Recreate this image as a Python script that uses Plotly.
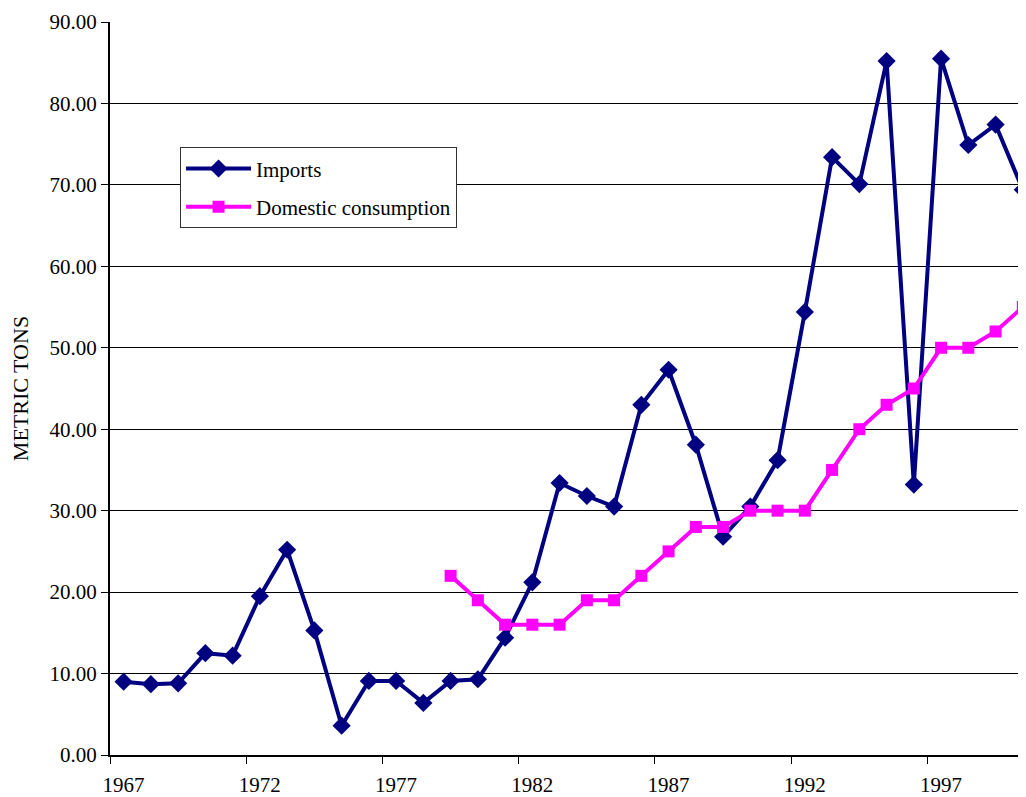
import plotly.graph_objects as go

years = [str(y) for y in range(1967, 2001)]
imports = [9.0, 8.7, 8.8, 12.5, 12.2, 19.5, 25.2, 15.3, 3.6, 9.1, 9.1, 6.4, 9.1, 9.3,
           14.4, 21.2, 33.4, 31.8, 30.5, 43.0, 47.3, 38.1, 26.8, 30.5, 36.2, 54.4,
           73.4, 70.1, 85.2, 33.2, 85.5, 74.9, 77.4, 69.4]
dom_years = [str(y) for y in range(1979, 2001)]
domestic = [22, 19, 16, 16, 16, 19, 19, 22, 25, 28, 28, 30, 30, 30, 35, 40, 43, 45,
            50, 50, 52, 55]

FONT = "Liberation Serif, Times New Roman, serif"

fig = go.Figure()
fig.add_trace(go.Scatter(
    x=years, y=imports, name="Imports", mode="lines+markers",
    line=dict(color="#000080", width=4),
    marker=dict(symbol="diamond", size=14, color="#000080"),
    legendgroup="a"))
fig.add_trace(go.Scatter(
    x=dom_years, y=domestic, name="Domestic consumption", mode="lines+markers",
    line=dict(color="#FF00FF", width=4),
    marker=dict(symbol="square", size=12, color="#FF00FF"),
    legendgroup="b"))

fig.update_layout(
    width=1026, height=797,
    margin=dict(l=102, r=0, t=14, b=50),
    paper_bgcolor="white", plot_bgcolor="white",
    font=dict(family=FONT, size=20, color="black"),
    showlegend=True,
    legend=dict(
        x=0.0758, y=0.829, xanchor="left", yanchor="top",
        bgcolor="white", bordercolor="#333", borderwidth=1,
        font=dict(family=FONT, size=21, color="black"),
        traceorder="grouped", tracegroupgap=8,
        itemwidth=65,
    ),
    xaxis=dict(
        type="category", categoryorder="array", categoryarray=years,
        range=[-0.5, 33.41], automargin=False,
        tickmode="linear", tick0=0, dtick=5, tickangle=0,
        tickson="boundaries",
        ticks="outside", ticklen=7, tickcolor="black", tickwidth=1,
        ticklabelstandoff=10,
        showgrid=False, showline=True, linecolor="black", linewidth=2,
        tickfont=dict(family=FONT, size=21),
        zeroline=False,
    ),
    yaxis=dict(
        range=[0, 90], dtick=10, tickformat=".2f", automargin=False,
        ticks="outside", ticklen=7, tickcolor="black",
        showgrid=True, gridcolor="black", gridwidth=1,
        showline=True, linecolor="black", linewidth=2,
        zeroline=False,
        tickfont=dict(family=FONT, size=21),
        title=dict(text="METRIC TONS", font=dict(family=FONT, size=22), standoff=16),
    ),
)

fig.write_html("out.html")
